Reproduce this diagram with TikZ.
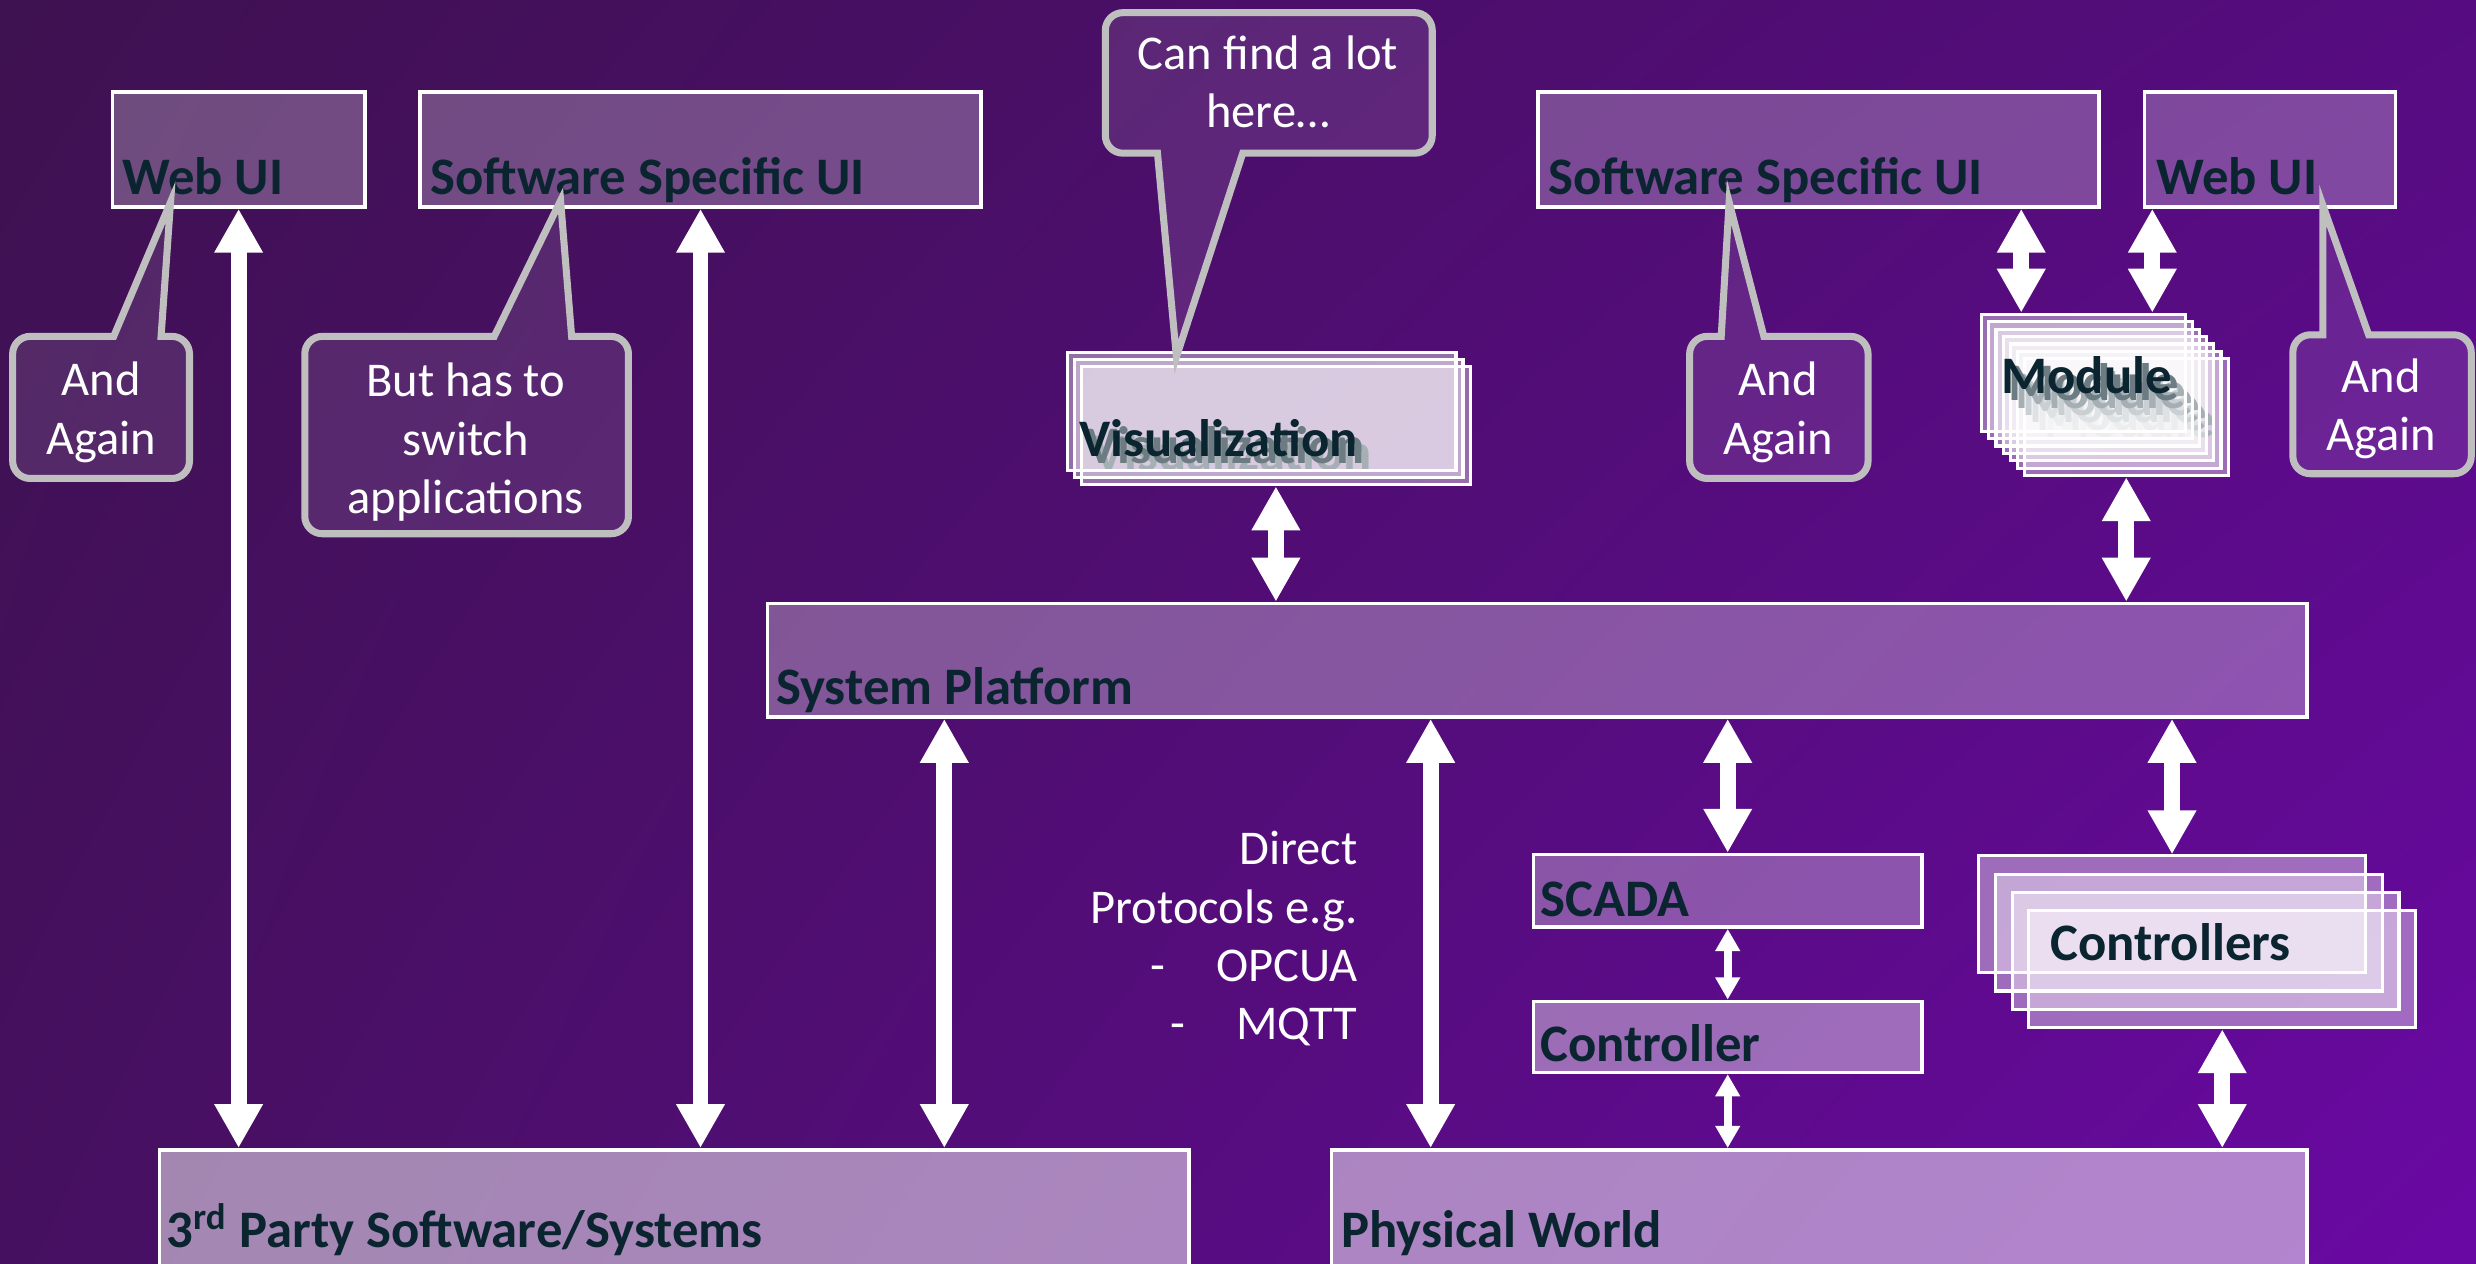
\documentclass[tikz,border=0pt]{standalone}
\usepackage{fontspec}
\setmainfont{Carlito}
\usetikzlibrary{arrows.meta,shadings}
\definecolor{bgTL}{HTML}{3E1150}
\definecolor{bgTR}{HTML}{560C80}
\definecolor{bgBL}{HTML}{461060}
\definecolor{bgBR}{HTML}{6A08A4}
\definecolor{inkdark}{HTML}{0B2530}
\definecolor{bubblegray}{HTML}{BFBFBF}
\newlength{\px}
\setlength{\px}{0.1579mm}

\begin{document}
\begin{tikzpicture}[x=0.1579mm,y=-0.1579mm,
  box/.style={draw=white,line width=1pt,fill=white,fill opacity=#1,text opacity=1,
    anchor=north west,inner sep=0pt},
  stack/.style={box=0.4,line width=0.9pt},
  title/.style={anchor=base west,inner sep=0pt,text=inkdark,
    font=\bfseries\fontsize{15}{18}\selectfont},
  bubble/.style={draw=bubblegray,line width=2pt,fill=white,fill opacity=0.1},
  note/.style={text=white,align=center,inner sep=0pt,
    font=\fontsize{13.8}{16.6}\selectfont},
  link/.style={draw=white,line width=4.5pt,
    {Triangle[width=13pt,length=12.5pt]}-{Triangle[width=13pt,length=12.5pt]}},
  small link/.style={draw=white,line width=2.2pt,
    {Triangle[width=6.7pt,length=6.3pt]}-{Triangle[width=6.7pt,length=6.3pt]}}]

  \useasboundingbox (0,0) rectangle (1568,800);
  \shade[upper left=bgTL,upper right=bgTR,lower left=bgBL,lower right=bgBR]
    (0,0) rectangle (1568,800);

  % user interfaces
  \node[box=0.25,minimum width=160\px,minimum height=73\px] (webL) at (70,57) {};
  \node[box=0.25,minimum width=355\px,minimum height=73\px] (softL) at (265,57) {};
  \node[box=0.25,minimum width=355\px,minimum height=73\px] (softR) at (973,57) {};
  \node[box=0.25,minimum width=159\px,minimum height=73\px] (webR) at (1357,57) {};
  \node[title] (webLt) at ([xshift=7\px,yshift=9\px]webL.south west) {Web UI};
  \node[title] (softLt) at ([xshift=7\px,yshift=9\px]softL.south west) {Software Specific UI};
  \node[title] (softRt) at ([xshift=7\px,yshift=9\px]softR.south west) {Software Specific UI};
  \node[title] (webRt) at ([xshift=8\px,yshift=9\px]webR.south west) {Web UI};

  % platform, plant side and the outside
  \node[box=0.3,minimum width=975\px,minimum height=72\px] (platform) at (485,381) {};
  \node[box=0.3,minimum width=246\px,minimum height=46\px] (scada) at (970,540) {};
  \node[box=0.4,minimum width=246\px,minimum height=45\px] (ctrl) at (970,633) {};
  \node[box=0.5,minimum width=652\px,minimum height=76\px] (third) at (100,727) {};
  \node[box=0.5,minimum width=618\px,minimum height=76\px] (world) at (842,727) {};
  \node[title] (platformt) at ([xshift=6\px,yshift=9\px]platform.south west) {System Platform};
  \node[title] (scadat) at ([xshift=5\px,yshift=8\px]scada.south west) {SCADA};
  \node[title] (ctrlt) at ([xshift=5\px,yshift=8\px]ctrl.south west) {Controller};
  \node[title] (thirdt) at ([xshift=5\px,yshift=-63\px]third.north west)
    {3\textsuperscript{rd} Party Software/Systems};
  \node[title] (worldt) at ([xshift=7\px,yshift=-63\px]world.north west) {Physical World};

  % stacked boxes
  \foreach \k in {2,1,0}
    {\node[stack,minimum width=246\px,minimum height=75\px] (vis\k) at (675+4.5*\k,222+4.5*\k) {};
     \node[title] (vist\k) at ([xshift=8\px,yshift=10\px]vis\k.south west) {Visualization};}
  \foreach \k in {6,5,...,0}
    {\node[stack,minimum width=129\px,minimum height=74\px] (mod\k) at (1254+4.5*\k,198+4.7*\k) {};
     \node[title] (modt\k) at ([xshift=13\px,yshift=25\px]mod\k.south west) {Module};}
  \foreach \k in {0,...,3}
    \node[stack,minimum width=245\px,minimum height=74\px] (ctl\k) at (1252+10.6*\k,541+11.6*\k) {};
  \node[title] (ctlt) at ([xshift=46\px,yshift=9\px]ctl0.south west) {Controllers};

  \node[note,align=right,anchor=north east] (proto) at (860,526)
    {Direct\\Protocols e.g.\\-\hspace{1.05em}OPCUA\\-\hspace{1.05em}MQTT};

  % arrows
  \coordinate (platL) at ([xshift=113\px]platform.south west);
  \coordinate (worldL) at ([xshift=64\px]world.north west);
  \coordinate (modL) at ([xshift=26\px]mod0.north west);
  \coordinate (modR) at ([xshift=109\px]mod0.north west);
  \draw[link] (webL.south) -- (webL.south |- third.north);
  \draw[link] (softL.south) -- (softL.south |- third.north);
  \draw[link] (platL) -- (platL |- third.north);
  \draw[link] (worldL) -- (worldL |- platform.south);
  \draw[link] (vis2.south) -- (vis2.south |- platform.north);
  \draw[link] (mod6.south) -- (mod6.south |- platform.north);
  \draw[link] (modL) -- (modL |- softR.south);
  \draw[link] (modR) -- (modR |- webR.south);
  \draw[link] (scada.north) -- (scada.north |- platform.south);
  \draw[small link] (scada.south) -- (ctrl.north);
  \draw[small link] (ctrl.south) -- (ctrl.south |- world.north);
  \draw[link] (ctl0.north) -- (ctl0.north |- platform.south);
  \draw[link] (ctl3.south) -- (ctl3.south |- world.north);

  % callouts
  \draw[bubble] (745,226) -- (733,97) [rounded corners=5pt] -- (700,97) -- (700,8)
    -- (907,8) -- (907,97) [sharp corners] -- (787,97) -- cycle;
  \draw[bubble] (108,128) -- (102,213) [rounded corners=5pt] -- (120,213) -- (120,303)
    -- (8,303) -- (8,213) [sharp corners] -- (72,213) -- cycle;
  \draw[bubble] (355,127) -- (362,213) [rounded corners=5pt] -- (398,213) -- (398,338)
    -- (193,338) -- (193,213) [sharp corners] -- (313,213) -- cycle;
  \draw[bubble] (1095,128) -- (1117,213) [rounded corners=5pt] -- (1183,213) -- (1183,303)
    -- (1070,303) -- (1070,213) [sharp corners] -- (1090,213) -- cycle;
  \draw[bubble] (1471,130) -- (1500,212) [rounded corners=5pt] -- (1565,212) -- (1565,300)
    -- (1452,300) -- (1452,212) [sharp corners] -- (1471,212) -- cycle;
  \node[note] (noteA) at (803,52) {Can find a lot\\here…};
  \node[note] (noteB) at (64,261) {And\\Again};
  \node[note] (noteC) at (295,280) {But has to\\switch\\applications};
  \node[note] (noteD) at (1126,261) {And\\Again};
  \node[note] (noteE) at (1508,259) {And\\Again};
\end{tikzpicture}
\end{document}
